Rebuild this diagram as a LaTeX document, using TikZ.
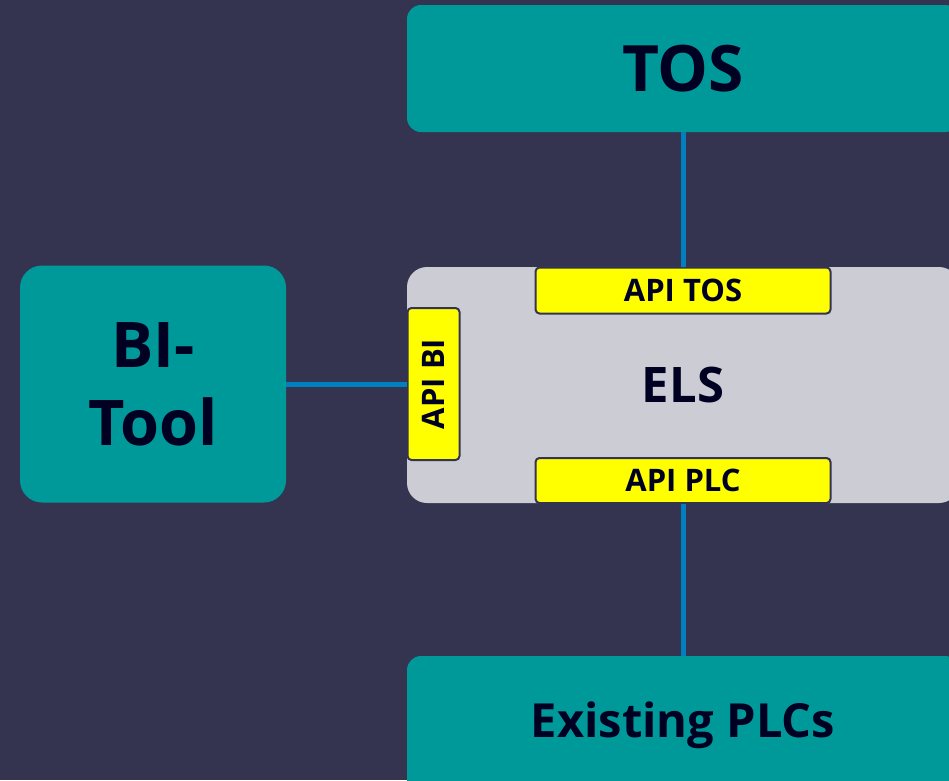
\documentclass[tikz,border=0pt]{standalone}
\usepackage{fontspec}
\setmainfont{Open Sans}
\usetikzlibrary{positioning}
\definecolor{bgnavy}{HTML}{343350}
\definecolor{sysgreen}{HTML}{009999}
\definecolor{elsgrey}{HTML}{CCCCD4}
\definecolor{apiyellow}{HTML}{FFFF00}
\definecolor{inkblue}{HTML}{000022}
\definecolor{linkblue}{HTML}{0080C0}
\tikzset{
system/.style = {fill=sysgreen, rectangle, rounded corners=14pt, text=inkblue, align=center, inner sep=0pt},
core/.style   = {fill=elsgrey, rectangle, rounded corners=20pt, text=inkblue, inner sep=0pt},
api/.style    = {draw=bgnavy, line width=2pt, fill=apiyellow, rectangle, rounded corners=4pt, text=inkblue, inner sep=0pt,
                 font=\bfseries\fontsize{31}{34}\selectfont},
link/.style   = {draw=linkblue, line width=5pt}
}

\begin{document}
\begin{tikzpicture}[x=1pt, y=-1pt]
  \fill [bgnavy] (0,0) rectangle (949,780);
  \useasboundingbox (0,0) rectangle (949,780);
  \clip (0,0) rectangle (949,780);

  \node [system, minimum width=552pt, minimum height=127pt, font=\bfseries\fontsize{64}{70}\selectfont]   (tos)    at (683,68.5)  {TOS};
  \node [system, minimum width=266pt, minimum height=237pt, rounded corners=22pt,
         font=\bfseries\fontsize{63}{78}\selectfont]                                                        (bitool) at (153,384) {BI-\\Tool};
  \node [core, minimum width=552pt, minimum height=236pt, font=\bfseries\fontsize{49}{54}\selectfont]      (els)    at (683,385)   {ELS};
  \node [system, minimum width=552pt, minimum height=138pt, font=\bfseries\fontsize{47}{52}\selectfont]   (plcs)   at (683,725)   {Existing PLCs};

  \node [api, minimum width=295pt, minimum height=46pt]              (apitos) at (683,290.5) {API TOS};
  \node [api, minimum width=295pt, minimum height=45pt]              (apiplc) at (683,480.5) {API PLC};
  \node [api, minimum width=152pt, minimum height=52pt, rotate=90]   (apibi)  at (433.5,384) {API BI};

  \draw [link] (tos.south) -- (apitos.north);
  \draw [link] (apiplc.south) -- (plcs.north);
  \draw [link] (bitool.east) -- (apibi.north);
\end{tikzpicture}
\end{document}
